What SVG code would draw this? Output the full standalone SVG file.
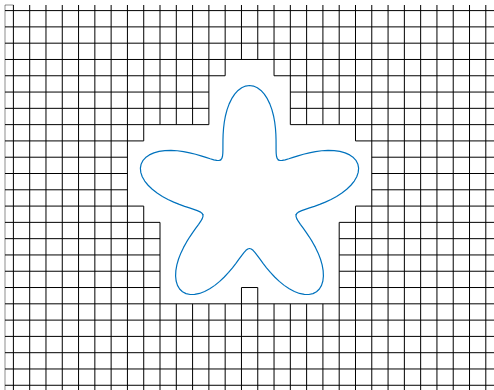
<svg xmlns="http://www.w3.org/2000/svg" xmlns:xlink="http://www.w3.org/1999/xlink" width="494" height="390" viewBox="0 0 494 390">
<style>
.g{fill:none;stroke:#000;stroke-width:1}
.f{fill:none;stroke:#000;stroke-width:1;stroke-opacity:0.45}
.s{fill:none;stroke:#0072BD;stroke-width:1.2;stroke-linejoin:round;stroke-linecap:round}
</style>
<defs>
<path id="petal" d="M-28.801,-39.642 L-27.677,-41.033 L-27.005,-43.217 L-26.677,-46.206 L-26.574,-49.979 L-26.569,-54.475 L-26.540,-59.609 L-26.366,-65.259 L-25.944,-71.281 L-25.185,-77.511 L-24.020,-83.768 L-22.406,-89.865 L-20.323,-95.614 L-17.780,-100.835 L-14.807,-105.361 L-11.461,-109.045 L-7.816,-111.767 L-3.961,-113.437 L0,-114 L3.961,-113.437 L7.816,-111.767 L11.461,-109.045 L14.807,-105.361 L17.780,-100.835 L20.323,-95.614 L22.406,-89.865 L24.020,-83.768 L25.185,-77.511 L25.944,-71.281 L26.366,-65.259 L26.540,-59.609 L26.569,-54.475 L26.574,-49.979 L26.677,-46.206 L27.005,-43.217 L27.677,-41.033 L28.801,-39.642"/>
</defs>
<rect width="494" height="390" fill="#fff"/>
<g id="grid">
<path class="f" d="M5,5 V390 M5,5 H13.4"/>
<path class="g" d="M5,10.6 H494 M5,26.89 H494 M5,43.18 H494 M5,59.47 H494
M5,75.76 H225.17 M274.04,75.76 H494
M5,92.05 H208.88 M290.33,92.05 H494
M5,108.34 H208.88 M290.33,108.34 H494
M5,124.63 H208.88 M290.33,124.63 H494
M5,140.92 H143.72 M355.49,140.92 H494
M5,157.21 H127.43 M371.78,157.21 H494
M5,173.5 H127.43 M371.78,173.5 H494
M5,189.79 H127.43 M371.78,189.79 H494
M5,206.08 H143.72 M355.49,206.08 H494
M5,222.37 H160.01 M339.2,222.37 H494
M5,238.66 H160.01 M339.2,238.66 H494
M5,254.95 H160.01 M339.2,254.95 H494
M5,271.24 H160.01 M339.2,271.24 H494
M5,287.53 H160.01 M241.46,287.53 H257.75 M339.2,287.53 H494
M5,303.82 H494 M5,320.11 H494 M5,336.4 H494 M5,352.69 H494 M5,368.98 H494 M5,385.27 H494"/>
<path class="g" d="M13.4,5 V390 M29.69,5 V390 M45.98,5 V390 M62.27,5 V390 M78.56,5 V390 M94.85,5 V390 M111.14,5 V390 M127.43,5 V390
M143.72,5 V140.92 M143.72,206.08 V390
M160.01,5 V124.63 M160.01,222.37 V390
M176.3,5 V124.63 M176.3,303.82 V390
M192.59,5 V124.63 M192.59,303.82 V390
M208.88,5 V124.63 M208.88,303.82 V390
M225.17,5 V75.76 M225.17,303.82 V390
M241.46,5 V59.47 M241.46,287.53 V390
M257.75,5 V59.47 M257.75,287.53 V390
M274.04,5 V75.76 M274.04,303.82 V390
M290.33,5 V124.63 M290.33,303.82 V390
M306.62,5 V124.63 M306.62,303.82 V390
M322.91,5 V124.63 M322.91,303.82 V390
M339.2,5 V124.63 M339.2,222.37 V390
M355.49,5 V140.92 M355.49,206.08 V390
M371.78,5 V390 M388.07,5 V390 M404.36,5 V390 M420.65,5 V390 M436.94,5 V390 M453.23,5 V390 M469.52,5 V390 M485.81,5 V390"/>
</g>
<g id="star" transform="translate(249.5,199.5)">
<use xlink:href="#petal" href="#petal" class="s"/>
<use xlink:href="#petal" href="#petal" class="s" transform="rotate(72)"/>
<use xlink:href="#petal" href="#petal" class="s" transform="rotate(144)"/>
<use xlink:href="#petal" href="#petal" class="s" transform="rotate(216)"/>
<use xlink:href="#petal" href="#petal" class="s" transform="rotate(288)"/>
</g>
</svg>
